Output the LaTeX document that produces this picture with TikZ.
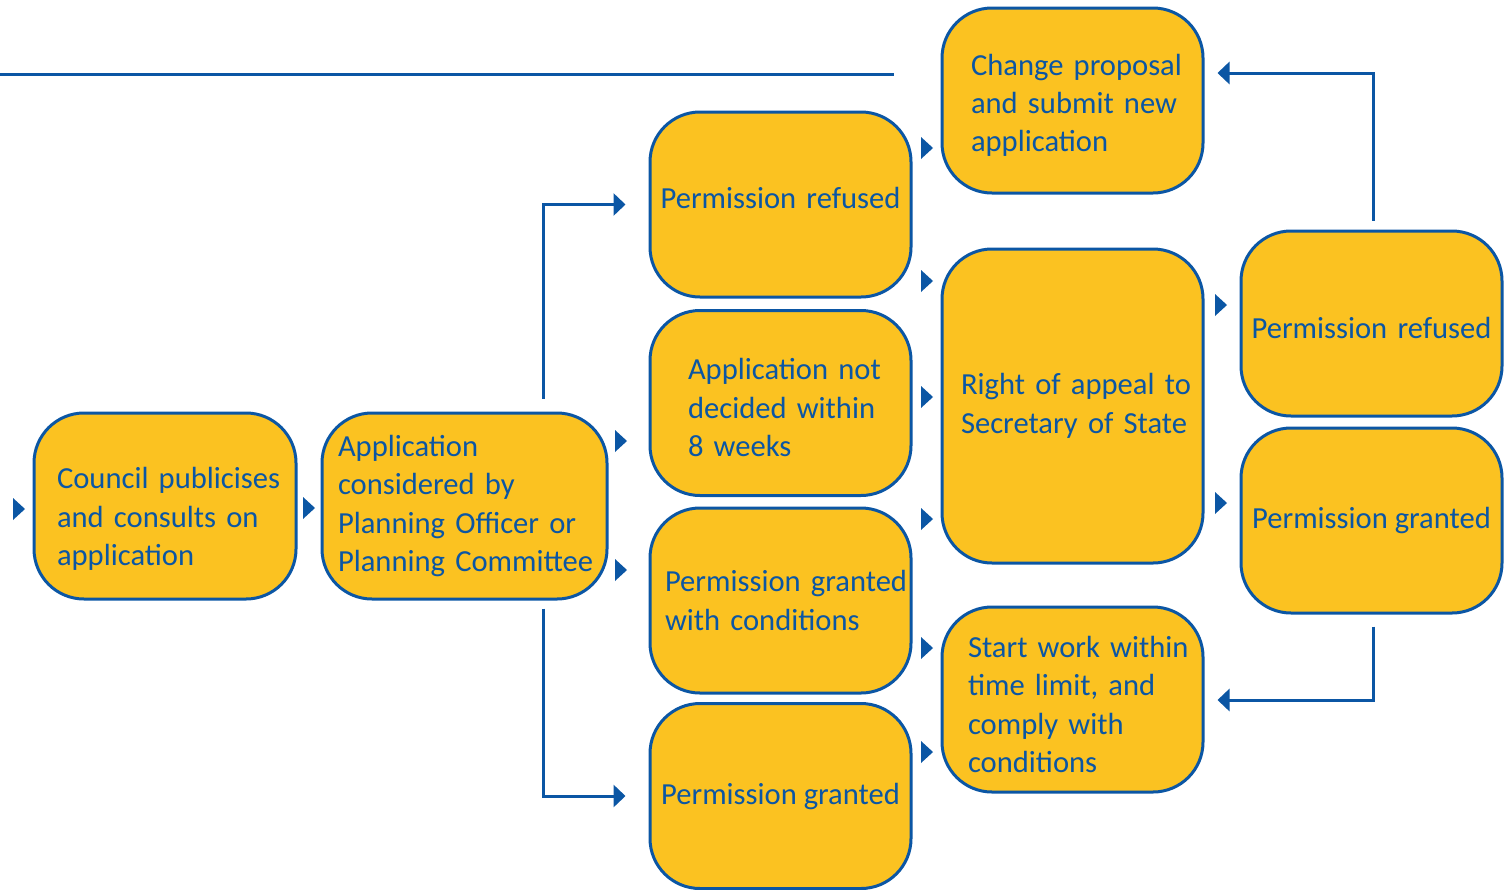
\documentclass[tikz,border=0pt]{standalone}
\usepackage{fontspec}
\setmainfont{Carlito}
\usetikzlibrary{arrows.meta,calc}
\definecolor{cyel}{HTML}{FBC221}
\definecolor{cblue}{HTML}{0B56A4}
\newcommand\tipr[2]{\fill[cblue] (#1-12,#2-11) -- (#1,#2) -- (#1-12,#2+11) -- cycle;}
\newcommand\hb[1]{\mbox{#1}}
\newcommand\tall[1]{\rule{0pt}{#1}}
\newcommand\deep[1]{\rule[-#1]{0pt}{#1}}
\begin{document}
\begin{tikzpicture}[x=0.5pt,y=-0.5pt,
  box/.style={draw=cblue, fill=cyel, line width=1.5pt, rounded corners=25pt,
    minimum width=130.5pt, minimum height=92.5pt, inner sep=0pt, text=cblue,
    font=\fontsize{15.3pt}{19.2pt}\selectfont, align=left},
  conn/.style={draw=cblue, line width=1.5pt, -{Triangle[length=6pt,width=11pt]}},
  plain/.style={draw=cblue, line width=1.5pt}]
\useasboundingbox (0,0) rectangle (1509,889);
% boxes
\node[box, minimum width=131pt, minimum height=93pt, text width=108pt] (council) at (165,506) {\tall{23.5pt}\hb{Council publicises}\\\hb{and consults on}\\\hb{application}};
\node[box, minimum width=142.5pt, minimum height=93pt, text width=126.5pt] (consid) at (464.5,506) {\hb{Application}\\\hb{considered by}\\\hb{Planning Officer or}\\\hb{Planning Committee}};
\node[box, align=center, text width=125pt] (ref1) at (780.5,204.5) {\deep{7pt}\hb{Permission refused}};
\node[box, text width=92.5pt] (notdec) at (780.5,403) {\tall{15.5pt}\hb{Application not}\\\hb{decided within}\\\hb{8 weeks}};
\node[box, text width=115.5pt] (gcond) at (780.5,600.5) {\hb{Permission granted}\\\hb{with conditions}};
\node[box, align=center] (gr1) at (780.5,796) {Permission granted};
\node[box, text width=101.5pt] (change) at (1072.5,100.5) {\tall{15.5pt}\hb{Change proposal}\\\hb{and submit new}\\\hb{application}};
\node[box, minimum height=157pt, text width=111.5pt] (appeal) at (1072.5,406) {\hb{Right of appeal to}\\\hb{Secretary of State}};
\node[box, text width=104.5pt] (start) at (1072.5,699.5) {\tall{15.5pt}\hb{Start work within}\\\hb{time limit, and}\\\hb{comply with}\\\hb{conditions}};
\node[box, align=center, text width=125pt] (ref2) at (1371.5,323.5) {\tall{15.5pt}\hb{Permission refused}};
\node[box, align=center] (gr2) at (1371.5,520.5) {Permission granted};
% top line
\coordinate (tl) at (0,74);
\coordinate (tr) at (894,74);
\draw[plain] (tl) -- (tr);
% connectors
\draw[conn] ($(consid.north)+(78.5,-13)$) |- ($(ref1.west)+(-23,0)$);
\draw[conn] ($(consid.south)+(78.5,8)$) |- ($(gr1.west)+(-23,0)$);
\draw[conn] ($(ref2.north)+(1.5,-9)$) |- ($(change.east)+(13,-27.5)$);
\draw[conn] ($(gr2.south)+(1.5,12)$) |- ($(start.east)+(13,0.5)$);
% standalone arrowheads
\tipr{25}{509}
\tipr{315}{508}
\tipr{627}{441}
\tipr{627}{570}
\tipr{933}{148}
\tipr{933}{281}
\tipr{933}{397}
\tipr{933}{519}
\tipr{933}{648}
\tipr{933}{752}
\tipr{1227}{305}
\tipr{1227}{503}
\end{tikzpicture}
\end{document}
